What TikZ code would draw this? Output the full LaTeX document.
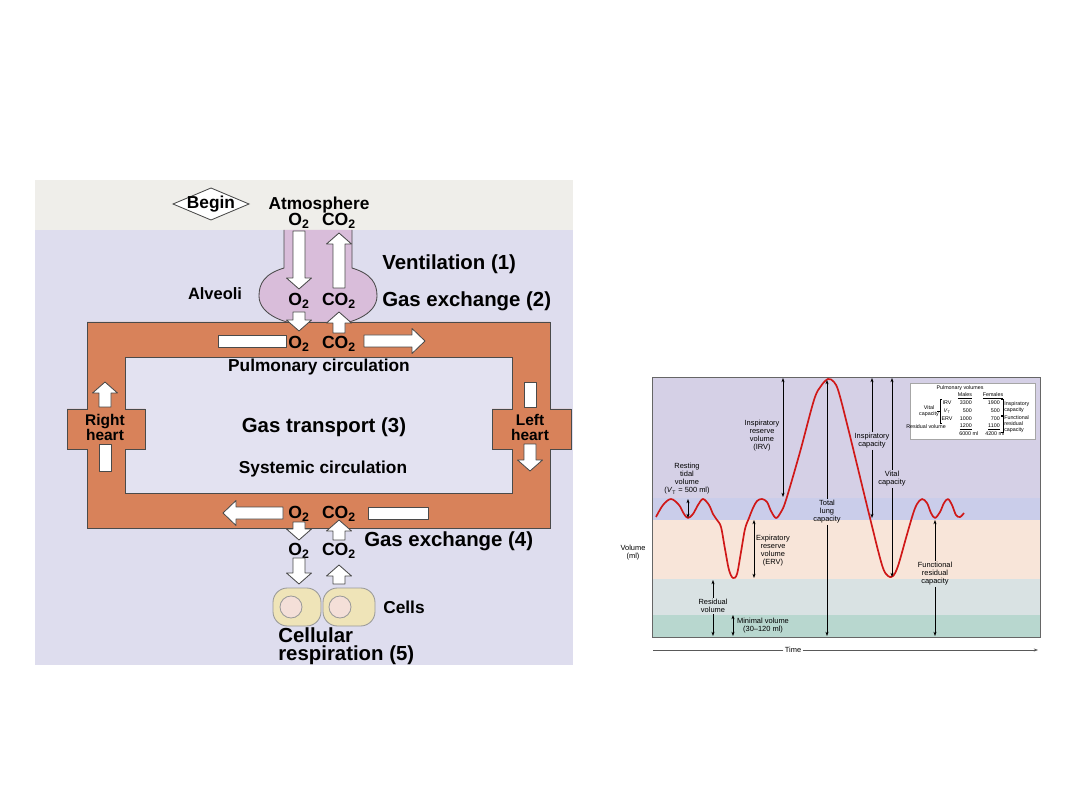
\documentclass[tikz,border=0pt]{standalone}
\usepackage{fontspec}
\setmainfont{Liberation Sans}
\usetikzlibrary{arrows.meta,calc,positioning}
\definecolor{bandTop}{HTML}{EFEEEA}
\definecolor{panelLav}{HTML}{DEDDEE}
\definecolor{innerLav}{HTML}{E3E2F1}
\definecolor{ringOrange}{HTML}{D8825A}
\definecolor{alvPink}{HTML}{D9BDDA}
\definecolor{cellCream}{HTML}{EFE4B8}
\definecolor{nucPink}{HTML}{F4DFD8}
\definecolor{edgeGray}{HTML}{4A4A4A}
\definecolor{irvLav}{HTML}{D5D0E6}
\definecolor{tidBlue}{HTML}{CACDEA}
\definecolor{ervPeach}{HTML}{F8E5D9}
\definecolor{resGray}{HTML}{D9E2E3}
\definecolor{minGreen}{HTML}{B8D7CF}
\definecolor{curveRed}{HTML}{D01818}

\newcommand{\Otwo}{O\textsubscript{2}}
\newcommand{\COtwo}{CO\textsubscript{2}}
% white block arrows: vertical (x, tail y, tip y) and horizontal (y, tail x, tip x)
\newcommand{\vblock}[3]{%
  \pgfmathsetmacro{\headbase}{#3-11*sign(#3-#2)}%
  \draw[blockarrow] (#1-6,#2) -- (#1-6,\headbase) -- (#1-12.5,\headbase) -- (#1,#3)
    -- (#1+12.5,\headbase) -- (#1+6,\headbase) -- (#1+6,#2) -- cycle;}
\newcommand{\hblock}[3]{%
  \pgfmathsetmacro{\headbase}{#3-13*sign(#3-#2)}%
  \draw[blockarrow] (#2,#1-6) -- (\headbase,#1-6) -- (\headbase,#1-12.5) -- (#3,#1)
    -- (\headbase,#1+12.5) -- (\headbase,#1+6) -- (#2,#1+6) -- cycle;}

\begin{document}
\begin{tikzpicture}[x=0.25mm,y=-0.25mm,>=Stealth,
  blockarrow/.style={fill=white,draw=edgeGray,line width=0.6pt,line join=round},
  lbl/.style={font=\fontsize{12.3}{13}\selectfont\bfseries,inner sep=0pt},
  biglbl/.style={font=\fontsize{14.5}{13}\selectfont\bfseries,inner sep=0pt},
  gaslbl/.style={font=\fontsize{12.5}{13}\selectfont\bfseries,inner sep=0pt},
  heartlbl/.style={font=\fontsize{11}{10.7}\selectfont\bfseries,align=center,inner sep=0pt},
  gl/.style={font=\fontsize{5.3}{5.7}\selectfont,align=center,inner sep=0.8pt},
  tb/.style={font=\fontsize{3.8}{4.3}\selectfont,inner sep=0pt},
  dimline/.style={line width=0.4pt,{Stealth[length=3pt,width=2.2pt]}-{Stealth[length=3pt,width=2.2pt]}},
  dimend/.style={line width=0.4pt,-{Stealth[length=3pt,width=2.2pt]}}]
\useasboundingbox (0,0) rectangle (1080,810);
\fill[white] (0,0) rectangle (1080,810);

% left panel: gas exchange scheme
\fill[bandTop] (35,180) rectangle (573,230);
\fill[panelLav] (35,230) rectangle (573,665);
\draw[fill=white,draw=edgeGray,line width=0.6pt] (173,204) -- (211,188) -- (249,204) -- (211,220) -- cycle;
\node[lbl] (begin) at (211,204) {Begin};
\node[lbl] (atm) at (319,205) {Atmosphere};
\node[gaslbl] (o2atm) at (299,221) {\Otwo};
\node[gaslbl] (co2atm) at (339,221) {\COtwo};

% alveoli
\fill[alvPink] (352,230) -- (352,268) .. controls (372,274) and (377,284) .. (377,296)
  .. controls (377,314) and (352,326) .. (318,326) .. controls (284,326) and (259,314) .. (259,296)
  .. controls (259,284) and (264,274) .. (284,268) -- (284,230) -- cycle;
\draw[edgeGray,line width=0.6pt] (352,230) -- (352,268) .. controls (372,274) and (377,284) .. (377,296)
  .. controls (377,314) and (352,326) .. (318,326) .. controls (284,326) and (259,314) .. (259,296)
  .. controls (259,284) and (264,274) .. (284,268) -- (284,230);
\vblock{299}{231}{289}
\vblock{339}{288}{233}
\node[gaslbl] (o2alv) at (299,301) {\Otwo};
\node[gaslbl] (co2alv) at (339,301) {\COtwo};
\node[lbl,font=\fontsize{11.7}{13}\selectfont\bfseries] (alveoli) at (215,294) {Alveoli};
\node[biglbl,anchor=west] (vent) at (382,264) {Ventilation (1)};
\node[biglbl,anchor=west] (gx2) at (382,301) {Gas exchange (2)};

% circulation loop with the two hearts
\fill[innerLav] (125,357) rectangle (512,493);
\draw[fill=ringOrange,draw=edgeGray,line width=0.7pt,even odd rule]
  (87,322) -- (550,322) -- (550,409) -- (571,409) -- (571,449) -- (550,449) -- (550,528)
  -- (87,528) -- (87,449) -- (67,449) -- (67,409) -- (87,409) -- cycle
  (125,357) -- (512,357) -- (512,409) -- (492,409) -- (492,449) -- (512,449) -- (512,493)
  -- (125,493) -- (125,449) -- (145,449) -- (145,409) -- (125,409) -- cycle;
\vblock{299}{312}{331}
\vblock{339}{333}{312}
\draw[blockarrow] (218,335) rectangle (286,347);
\hblock{341}{364}{425}
\node[gaslbl] (o2pul) at (299,344) {\Otwo};
\node[gaslbl] (co2pul) at (339,344) {\COtwo};
\node[lbl] (pulm) at (319,367) {Pulmonary circulation};
\node[biglbl] (transport) at (324,427) {Gas transport (3)};
\node[lbl] (syst) at (323,469) {Systemic circulation};
\vblock{105}{407}{382}
\draw[blockarrow] (99,444) rectangle (111,471);
\node[heartlbl] (rheart) at (105,427) {Right\\heart};
\draw[blockarrow] (524,382) rectangle (536,407);
\vblock{530}{444}{471}
\node[heartlbl] (lheart) at (530,427) {Left\\heart};
\hblock{513}{283}{223}
\draw[blockarrow] (368,507) rectangle (428,519);
\node[gaslbl] (o2sys) at (299,514) {\Otwo};
\node[gaslbl] (co2sys) at (339,514) {\COtwo};

% tissues
\vblock{299}{522}{540}
\vblock{339}{540}{520}
\node[biglbl,anchor=west] (gx4) at (364,541) {Gas exchange (4)};
\node[gaslbl] (o2cell) at (299,551) {\Otwo};
\node[gaslbl] (co2cell) at (339,551) {\COtwo};
\vblock{299}{558}{584}
\vblock{339}{584}{565}
\draw[fill=cellCream,draw=gray!80,line width=0.6pt,rounded corners=3.6mm] (273,588) rectangle (321,626);
\draw[fill=cellCream,draw=gray!80,line width=0.6pt,rounded corners=3.6mm] (323,588) rectangle (375,626);
\draw[fill=nucPink,draw=gray!80,line width=0.6pt] (291,607) circle (11);
\draw[fill=nucPink,draw=gray!80,line width=0.6pt] (340,607) circle (11);
\node[lbl] (cells) at (404,607) {Cells};
\node[biglbl,anchor=west,align=left] (resp) at (278,646) {Cellular\\respiration (5)};

% right panel: lung volumes
\fill[irvLav] (652,377) rectangle (1040,498);
\fill[tidBlue] (652,498) rectangle (1040,520);
\fill[ervPeach] (652,520) rectangle (1040,579);
\fill[resGray] (652,579) rectangle (1040,615);
\fill[minGreen] (652,615) rectangle (1040,637);
\draw[gray!80!black,line width=0.6pt] (652,377) rectangle (1040,637);
\draw[curveRed,line width=1.2pt,line join=round] plot[smooth,tension=0.55] coordinates {
  (656,517) (663,505) (671,499) (679,505) (684,514) (688,518) (693,514) (698,505) (703,499)
  (709,505) (713,514) (717,520) (721,527) (725,549) (729,570) (733,578) (737,574) (741,552)
  (745,529) (749,518) (753,508) (757,501) (762,499) (767,502) (771,511) (776,518) (781,512)
  (786,500) (800,452) (814,400) (821,386) (828,379) (834,382) (839,393) (850,436) (870,518)
  (882,565) (888,576) (893,576) (898,566) (906,538) (913,514) (917,504) (922,499) (927,503)
  (931,513) (935,518) (940,512) (944,503) (948,499) (952,505) (956,515) (960,517) (964,513)};

\draw[dimline] (688,499) -- (688,518);
\node[gl] (tidal) at (687,479) {Resting\\tidal\\volume\\(\textit{V}\textsubscript{T} = 500 ml)};
\draw[dimline] (783,378) -- (783,497);
\node[gl] (irv) at (762,436) {Inspiratory\\reserve\\volume\\(IRV)};
\node[gl] (tlc) at (827,512) {Total\\lung\\capacity};
\draw[dimend] (tlc.north) -- (827,380);
\draw[dimend] (tlc.south) -- (827,636);
\draw[dimline] (754,520) -- (754,578);
\node[gl] (erv) at (773,551) {Expiratory\\reserve\\volume\\(ERV)};
\node[gl] (rv) at (713,606) {Residual\\volume};
\draw[dimend] (rv.north) -- (713,580);
\draw[dimend] (rv.south) -- (713,636);
\draw[dimline] (733,615) -- (733,636);
\node[gl] (minvol) at (763,626) {Minimal volume\\(30--120 ml)};
\node[gl] (ic) at (872,441) {Inspiratory\\capacity};
\draw[dimend] (ic.north) -- (872,378);
\draw[dimend] (ic.south) -- (872,518);
\node[gl] (vc) at (892,479) {Vital\\capacity};
\draw[dimend] (vc.north) -- (892,378);
\draw[dimend] (vc.south) -- (892,577);
\node[gl] (frc) at (935,574) {Functional\\residual\\capacity};
\draw[dimend] (frc.north) -- (935,520);
\draw[dimend] (frc.south) -- (935,636);
\node[gl] (vol) at (633,553) {Volume\\(ml)};
\node[gl] (time) at (793,650) {Time};
\draw[gray!70!black,line width=0.4pt] (time.west) -- (653,650);
\draw[dimend,gray!70!black] (time.east) -- (1038,650);

% table of pulmonary volumes
\draw[fill=white,draw=gray!70,line width=0.4pt] (910,383) rectangle (1035,439);
\node[tb] (tabhead) at (960,388) {Pulmonary volumes};
\node[tb] (males) at (965,395.5) {\underline{Males}};
\node[tb] (females) at (993,395.5) {\underline{Females}};
\node[tb] (rirv) at (947,403) {IRV};
\node[tb] (rvt) at (947,411) {\textit{V}\textsubscript{T}};
\node[tb] (rerv) at (947,419) {ERV};
\node[tb] (rrv) at (926,427) {Residual volume};
\node[tb,anchor=east] (m1) at (972,403) {3300};
\node[tb,anchor=east] (m2) at (972,411) {500};
\node[tb,anchor=east] (m3) at (972,419) {1000};
\node[tb,anchor=east] (m4) at (972,427) {\underline{1200}};
\node[tb,anchor=east] (f1) at (1000,403) {1900};
\node[tb,anchor=east] (f2) at (1000,411) {500};
\node[tb,anchor=east] (f3) at (1000,419) {700};
\node[tb,anchor=east] (f4) at (1000,427) {\underline{1100}};
\node[tb,anchor=west] (mtot) at (959,434) {6000 ml};
\node[tb,anchor=west] (ftot) at (985,434) {4200 ml};
\node[tb,align=center] (vcap) at (929,411) {Vital\\capacity};
\draw[line width=0.3pt] (942,399) -- (940,399) -- (940,423) -- (942,423) (937,411) -- (940,411);
\draw[line width=0.3pt] (1001,399) -- (1003,399) -- (1003,415) -- (1001,415);
\draw[line width=0.3pt] (1001,416) -- (1003,416) -- (1003,432) -- (1001,432);
\node[tb,anchor=west,align=left] (icap) at (1004,407) {Inspiratory\\capacity};
\node[tb,anchor=west,align=left] (frcap) at (1004,424) {Functional\\residual\\capacity};
\end{tikzpicture}
\end{document}
